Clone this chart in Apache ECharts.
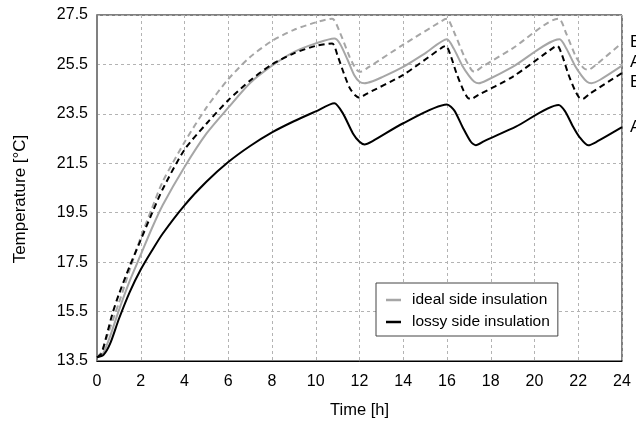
<!DOCTYPE html>
<html>
<head>
<meta charset="utf-8">
<script src="https://cdn.jsdelivr.net/npm/echarts@6/dist/echarts.min.js"></script>
<style>
  html, body { margin: 0; padding: 0; background: #fff; }
  #chart { width: 636px; height: 421px; }
</style>
</head>
<body>
<div id="chart"></div>
<script>
// time [h] / temperature [°C] pairs
var idealB = [
  [0, 13.65], [0.2, 13.85], [0.5, 14.6], [1, 15.85], [1.5, 17.2], [2, 18.5], [2.5, 19.65], [3, 20.75],
  [4, 22.35], [5, 23.75], [6, 24.9], [7, 25.8], [8, 26.45], [9, 26.9], [10, 27.2], [10.75, 27.35],
  [11.1, 26.8], [11.55, 25.8], [11.85, 25.3], [12.02, 25.2], [12.4, 25.38], [14, 26.3], [15.9, 27.33],
  [16.0, 27.35], [16.35, 26.75], [16.8, 25.8], [17.1, 25.3], [17.25, 25.2], [17.6, 25.4], [19, 26.15],
  [21.1, 27.35], [21.45, 26.75], [21.9, 25.8], [22.25, 25.35], [22.45, 25.28], [22.8, 25.48], [24, 26.37]
];
var idealA = [
  [0, 13.65], [0.25, 13.75], [0.6, 14.5], [1, 15.55], [1.5, 16.75], [2, 17.8], [2.5, 18.85], [3, 19.8],
  [4, 21.35], [5, 22.7], [6, 23.75], [7, 24.75], [8, 25.45], [9, 26.0], [10, 26.35], [10.85, 26.55],
  [11.1, 26.35], [11.45, 25.7], [11.77, 25.05], [12.0, 24.8], [12.23, 24.74], [12.6, 24.82], [13, 24.97],
  [14, 25.4], [15, 25.95], [16.0, 26.52], [16.3, 26.15], [16.7, 25.45], [17.0, 25.05], [17.25, 24.8],
  [17.45, 24.74], [17.8, 24.85], [19, 25.4], [21.15, 26.52], [21.45, 26.15], [21.85, 25.45],
  [22.15, 25.05], [22.4, 24.8], [22.6, 24.74], [23, 24.88], [24, 25.45]
];
var lossyB = [
  [0, 13.65], [0.2, 13.8], [0.4, 14.4], [0.7, 15.4], [1, 16.2], [1.5, 17.35], [2, 18.4], [2.5, 19.45],
  [3, 20.45], [4, 22.05], [5, 23.1], [6, 24.05], [7, 24.85], [8, 25.5], [9, 25.95], [10, 26.25],
  [10.75, 26.35], [11.0, 25.85], [11.3, 25.1], [11.55, 24.55], [11.8, 24.25], [12.0, 24.15], [12.3, 24.3],
  [14, 25.08], [15.8, 26.2], [15.95, 26.25], [16.15, 25.9], [16.45, 25.1], [16.75, 24.45], [16.95, 24.15],
  [17.1, 24.1], [17.4, 24.25], [19, 25.0], [20.9, 26.2], [21.05, 26.25], [21.25, 25.9], [21.55, 25.1],
  [21.85, 24.45], [22.05, 24.15], [22.2, 24.1], [22.5, 24.3], [24, 25.15]
];
var lossyA = [
  [0, 13.65], [0.3, 13.75], [0.6, 14.2], [1, 15.2], [1.5, 16.3], [2, 17.2], [2.5, 17.95], [3, 18.65],
  [4, 19.8], [5, 20.75], [6, 21.55], [7, 22.2], [8, 22.75], [9, 23.2], [10, 23.6], [10.85, 23.93],
  [11.24, 23.52], [11.7, 22.71], [12.0, 22.37], [12.23, 22.26], [12.6, 22.4], [14, 23.12],
  [16.0, 23.88], [16.33, 23.64], [16.71, 22.97], [17.09, 22.37], [17.32, 22.23], [17.7, 22.4],
  [19.15, 22.98], [21.1, 23.86], [21.4, 23.6], [21.75, 23.0], [22.04, 22.58], [22.45, 22.23],
  [22.8, 22.35], [24, 22.96]
];
var seriesNames = ['ideal side insulation', 'lossy side insulation'];
var endTags = ['B', 'A', 'B', 'A'];
var endTagY = [42, 62, 82, 127];

var GRAY = '#a6a6a6';
var FONT = '"Liberation Sans", Arial, sans-serif';

var chart = echarts.init(document.getElementById('chart'));

function lineSeries(name, data, color, dashed) {
  return {
    name: name,
    type: 'line',
    data: data,
    showSymbol: false,
    smooth: 0.25,
    animation: false,
    lineStyle: { color: color, width: 2, type: dashed ? [6, 4] : 'solid' },
    itemStyle: { color: color }
  };
}

// B / A tags at the right edge, plus the rotated y title
var graphics = endTags.map(function (t, i) {
  return {
    type: 'text', x: 630, y: endTagY[i],
    style: { text: t, fontSize: 17, fontFamily: FONT, fill: '#000', verticalAlign: 'middle' }
  };
});
graphics.push({
  type: 'text', x: 20, y: 199, rotation: Math.PI / 2,
  style: {
    text: 'Temperature [°C]', fontSize: 17, fontFamily: FONT, fill: '#000',
    align: 'center', verticalAlign: 'middle'
  }
});

chart.setOption({
  backgroundColor: '#fff',
  animation: false,
  grid: {
    left: 97, right: 14, top: 15, bottom: 60,
    outerBoundsMode: 'none',
    show: true, borderColor: '#000', borderWidth: 1
  },
  legend: {
    orient: 'vertical',
    left: 376, top: 283,
    padding: [8, 8, 5, 10],
    itemGap: 4,
    itemWidth: 15, itemHeight: 2.5,
    borderColor: '#444', borderWidth: 1,
    backgroundColor: '#fff',
    textStyle: { fontSize: 15.5, fontFamily: FONT, color: '#000', lineHeight: 18, padding: [0, 0, 0, 6] },
    data: [
      { name: seriesNames[0], icon: 'rect', itemStyle: { color: GRAY } },
      { name: seriesNames[1], icon: 'rect', itemStyle: { color: '#000' } }
    ]
  },
  xAxis: {
    type: 'value', min: 0, max: 24, interval: 2,
    name: 'Time [h]', nameLocation: 'middle', nameGap: 41,
    nameTextStyle: { fontSize: 16.5, fontFamily: FONT, color: '#000' },
    axisLine: { lineStyle: { color: '#000', width: 1 } },
    axisTick: { show: false },
    axisLabel: { fontSize: 16, fontFamily: FONT, color: '#000', margin: 13 },
    splitLine: { lineStyle: { color: '#b3b3b3', type: [3, 3], width: 1 } }
  },
  yAxis: {
    type: 'value', min: 13.5, max: 27.5, interval: 2,
    axisLine: { show: true, lineStyle: { color: '#808080', width: 2 } },
    axisTick: { show: false },
    axisLabel: {
      fontSize: 16, fontFamily: FONT, color: '#000', margin: 9,
      formatter: function (v) { return v.toFixed(1); }
    },
    splitLine: { lineStyle: { color: '#b3b3b3', type: [3, 3], width: 1 } }
  },
  series: [
    lineSeries(seriesNames[0], idealB, GRAY, true),
    lineSeries(seriesNames[0], idealA, GRAY, false),
    lineSeries(seriesNames[1], lossyB, '#000', true),
    lineSeries(seriesNames[1], lossyA, '#000', false)
  ],
  graphic: graphics
});

window.onresize = function () { chart.resize(); };
</script>
</body>
</html>
